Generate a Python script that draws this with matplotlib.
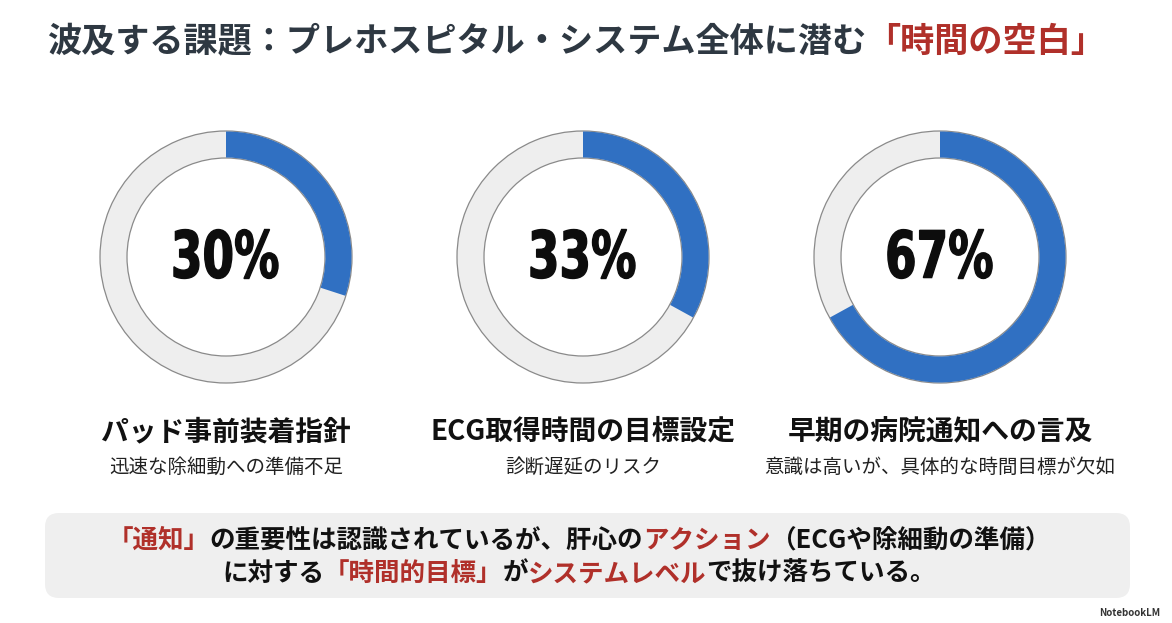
import matplotlib
matplotlib.use("Agg")
import matplotlib.pyplot as plt
from matplotlib.patches import Wedge, FancyBboxPatch, PathPatch
from matplotlib.textpath import TextPath
from matplotlib.font_manager import FontProperties
from matplotlib.transforms import Affine2D

plt.rcParams['font.family'] = ['Noto Sans CJK JP', 'DejaVu Sans']

W, H = 1172, 623

# data
percents = [30, 33, 67]
labels = ["パッド事前装着指針", "ECG取得時間の目標設定", "早期の病院通知への言及"]
sublabels = ["迅速な除細動への準備不足", "診断遅延のリスク", "意識は高いが、具体的な時間目標が欠如"]
centers_x = [226, 583, 940]

RED = "#b0302a"
DARK = "#2e3842"
title_parts = [("波及する課題：プレホスピタル・システム全体に潜む", DARK), ("「時間の空白」", RED)]
note_line1 = [("「通知」", RED), ("の重要性は認識されているが、肝心の", "#111111"),
              ("アクション", RED), ("（ECGや除細動の準備）", "#111111")]
note_line2 = [("に対する", "#111111"), ("「時間的目標」", RED), ("が", "#111111"),
              ("システムレベル", RED), ("で抜け落ちている。", "#111111")]

fig = plt.figure(figsize=(W / 100, H / 100), dpi=100)
ax = fig.add_axes([0, 0, 1, 1])
ax.set_xlim(0, W)
ax.set_ylim(0, H)
ax.axis("off")
renderer = fig.canvas.get_renderer()


def Y(y):
    return H - y


def text_width(s, size, weight):
    # advance width via pipe trick so brackets keep their spacing
    t1 = ax.text(0, 0, "|" + s + "|", fontsize=size, fontweight=weight)
    t2 = ax.text(0, 0, "||", fontsize=size, fontweight=weight)
    w = t1.get_window_extent(renderer).width - t2.get_window_extent(renderer).width
    t1.remove()
    t2.remove()
    return w


def rich_line(xc, y, parts, size, weight="bold"):
    widths = [text_width(s, size, weight) for s, c in parts]
    x = xc - sum(widths) / 2
    for (s, c), w in zip(parts, widths):
        ax.text(x, Y(y), s, color=c, fontsize=size, fontweight=weight,
                va="baseline", ha="left")
        x += w


# title
rich_line(576, 52, title_parts, 24.6)

# donuts
R_OUT, RING = 126, 27
num_font = FontProperties(family="DejaVu Sans", weight="bold")
for cx, p in zip(centers_x, percents):
    cy = Y(257)
    ax.add_patch(Wedge((cx, cy), R_OUT, 0, 360, width=RING,
                       facecolor="#eeeeee", edgecolor="#8a8a8a", linewidth=0.9))
    ax.add_patch(Wedge((cx, cy), R_OUT - 0.5, 90 - 360 * p / 100, 90, width=RING - 1,
                       facecolor="#3070c2", edgecolor="none"))
    # condensed heavy numerals: squeeze the glyph outline horizontally
    tp = TextPath((0, 0), f"{p}%", size=10, prop=num_font)
    bb = tp.get_extents()
    sy = 49 / bb.height
    tr = (Affine2D().translate(-(bb.x0 + bb.x1) / 2, -(bb.y0 + bb.y1) / 2)
          .scale(sy * 0.70, sy).translate(cx, Y(254)))
    ax.add_patch(PathPatch(tr.transform_path(tp), facecolor="#0d0d0d",
                           edgecolor="#0d0d0d", linewidth=1.0))

for cx, lab, sub in zip(centers_x, labels, sublabels):
    ax.text(cx, Y(432), lab, fontsize=20, fontweight="bold", ha="center", va="center", color="#111111")
    ax.text(cx, Y(467), sub, fontsize=14, ha="center", va="center", color="#222222")

# bottom box
ax.add_patch(FancyBboxPatch((45, Y(598)), 1085, 85,
                            boxstyle="round,pad=0,rounding_size=14",
                            facecolor="#efefef", edgecolor="none"))
rich_line(579, 548, note_line1, 18.4)
rich_line(579, 581, note_line2, 18.4)

ax.text(1160, Y(613), "NotebookLM", fontsize=7, fontweight="bold", ha="right", va="center", color="#333333")

fig.savefig("out.png", dpi=100)
